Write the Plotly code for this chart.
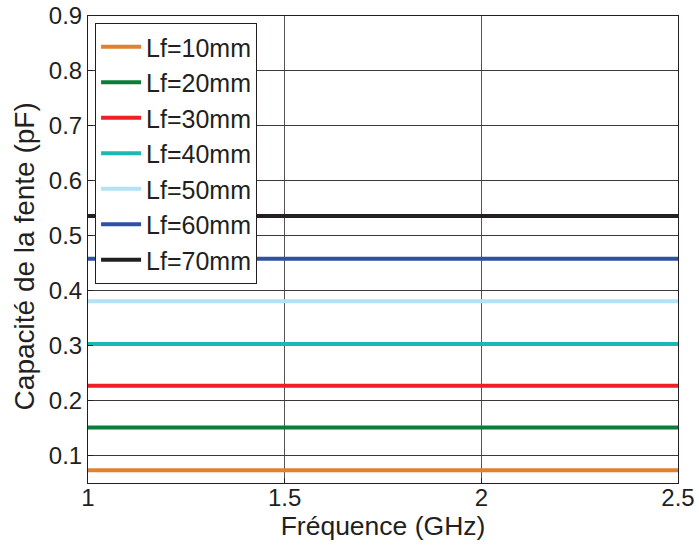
import plotly.graph_objects as go

freq_ghz = [1.0, 1.5, 2.0, 2.5]
labels = ["Lf=10mm", "Lf=20mm", "Lf=30mm", "Lf=40mm", "Lf=50mm", "Lf=60mm", "Lf=70mm"]
capacitance_pf = [0.073, 0.151, 0.227, 0.303, 0.381, 0.458, 0.536]
colors = ["#E0812F", "#0B7D3B", "#EE1F25", "#1CB8B6", "#B3E1F6", "#2D51A3", "#231F20"]

y_ticks = [0.1, 0.2, 0.3, 0.4, 0.5, 0.6, 0.7, 0.8, 0.9]
x_ticks = [1, 1.5, 2, 2.5]
x_title = "Fréquence (GHz)"
y_title = "Capacité de la fente (pF)"

fig = go.Figure()
for name, c, col in zip(labels, capacitance_pf, colors):
    fig.add_trace(go.Scatter(
        x=freq_ghz, y=[c] * len(freq_ghz), mode="lines", name=name,
        line=dict(color=col, width=4),
    ))

font_family = "Liberation Sans, Arial, sans-serif"
fig.update_layout(
    width=699, height=546,
    margin=dict(l=88, r=21, t=16, b=63, autoexpand=False),
    paper_bgcolor="white", plot_bgcolor="white",
    font=dict(family=font_family, color="#231F20"),
    showlegend=True,
    legend=dict(
        x=0.012, y=0.985, xanchor="left", yanchor="top",
        bgcolor="white", bordercolor="#231F20", borderwidth=1,
        font=dict(size=25, family=font_family, color="#231F20"),
        itemwidth=40,
    ),
    xaxis=dict(
        range=[1, 2.5], tickvals=x_ticks, ticktext=["1", "1.5", "2", "2.5"],
        showgrid=True, gridcolor="#555555", gridwidth=1,
        showline=True, linecolor="#231F20", linewidth=1, mirror=True,
        ticks="inside", ticklen=5, tickcolor="#231F20",
        tickfont=dict(size=24), zeroline=False, automargin=False,
        ticklabelstandoff=-7,
        title=dict(text=x_title, font=dict(size=26.5), standoff=0),
    ),
    yaxis=dict(
        range=[0.05, 0.9], tickvals=y_ticks,
        ticktext=[f"{v:.1f}" for v in y_ticks],
        showgrid=True, gridcolor="#3a3a3a", gridwidth=1,
        showline=True, linecolor="#231F20", linewidth=1, mirror=True,
        ticks="inside", ticklen=5, tickcolor="#231F20",
        tickfont=dict(size=24), zeroline=False, automargin=False,
    ),
    annotations=[dict(
        text=y_title, textangle=-90, showarrow=False,
        xref="paper", yref="paper", x=-0.107, y=0.485,
        xanchor="center", yanchor="middle",
        font=dict(size=28, family=font_family, color="#231F20"),
    )],
)

fig.write_html("out.html", config={"displayModeBar": False},
               post_script="document.body.style.margin='0';")
